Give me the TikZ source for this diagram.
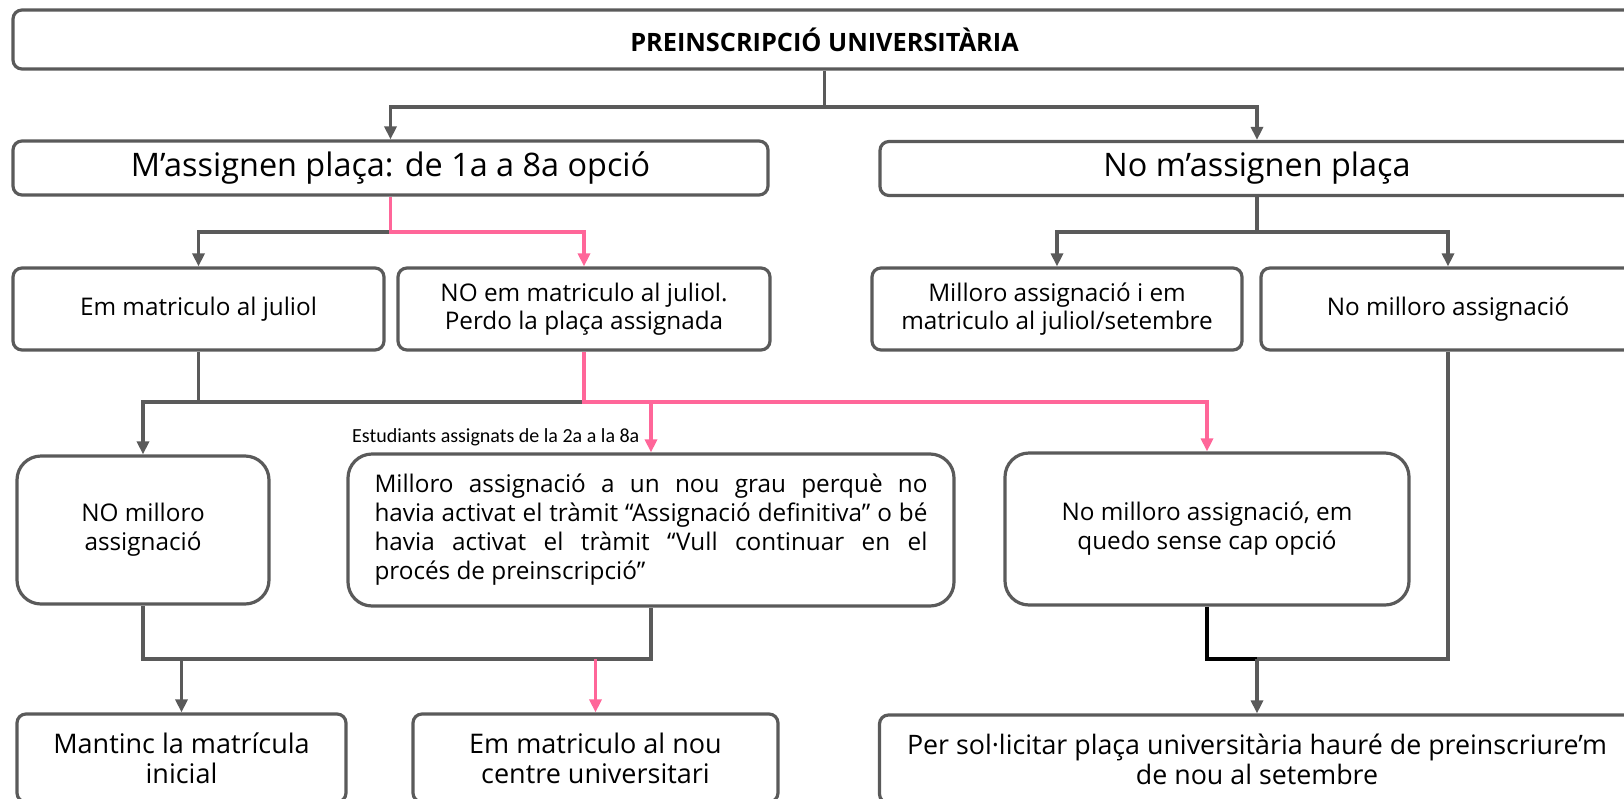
\documentclass[tikz,border=0pt]{standalone}
\usepackage{fontspec}
\setmainfont{Open Sans}
\newfontfamily\calfont{Carlito}
\usetikzlibrary{arrows.meta,calc}
\definecolor{boxgray}{RGB}{90,90,90}
\definecolor{pinkline}{RGB}{255,102,153}
\tikzset{
  box/.style={draw=boxgray, line width=3.2pt, rounded corners=9pt, fill=white, inner sep=0pt, align=center, text=black},
  bigbox/.style={box, rounded corners=24pt},
  conn/.style={draw=boxgray, line width=3.2pt},
  pconn/.style={draw=pinkline, line width=3.2pt},
  kconn/.style={draw=black, line width=3.4pt},
  arr/.style={-{Triangle[length=13pt,width=12pt]}},
  midfont/.style={font=\fontsize{24.3}{27.5}\selectfont},
}
\begin{document}
\begin{tikzpicture}[x=1pt,y=-1pt]
\useasboundingbox (0,0) rectangle (1624,798);
\clip (0,0) rectangle (1624,798);
% nodes
\node[box, minimum width=1623pt, minimum height=59pt, font=\fontsize{25.3}{30}\selectfont\bfseries] (title) at (824.5,39.5) {PREINSCRIPCIÓ UNIVERSITÀRIA};
\node[box, minimum width=755pt, minimum height=54pt, font=\fontsize{32.4}{38}\selectfont] (assig) at (390.5,168) {M’assignen plaça: de 1a a 8a opció};
\node[box, minimum width=754pt, minimum height=54pt, font=\fontsize{32.4}{38}\selectfont] (noassig) at (1257,168.5) {No m’assignen plaça};
\node[box, minimum width=371pt, minimum height=82pt, midfont] (emjul) at (198.5,309) {Em matriculo al juliol};
\node[box, minimum width=372pt, minimum height=82pt, midfont] (nojul) at (584,309) {NO em matriculo al juliol.\\Perdo la plaça assignada};
\node[box, minimum width=370pt, minimum height=82pt, midfont] (millju) at (1057,309) {Milloro assignació i em\\matriculo al juliol/setembre};
\node[box, minimum width=374pt, minimum height=82pt, midfont] (nomill) at (1448,309) {No milloro assignació};
\node[bigbox, minimum width=252pt, minimum height=148pt, font=\fontsize{24.3}{29}\selectfont] (NOmill) at (143,530) {NO milloro\\assignació};
\node[bigbox, minimum width=606pt, minimum height=152pt, text width=553pt, align=justify, font=\fontsize{24.3}{29}\selectfont] (millnou) at (651,530) {\spaceskip=0.26em plus 0.5em minus 0.14em\relax Milloro assignació a un nou grau perquè no\linebreak havia activat el tràmit “Assignació definitiva” o bé\linebreak havia activat el tràmit “Vull continuar en el\linebreak procés de preinscripció”};
\node[bigbox, minimum width=404pt, minimum height=152pt, font=\fontsize{24.3}{29}\selectfont] (nomillem) at (1207,529) {No milloro assignació, em\\quedo sense cap opció};
\node[box, minimum width=329pt, minimum height=88pt, font=\fontsize{27}{30}\selectfont] (mantinc) at (181.5,758) {Mantinc la matrícula\\inicial};
\node[box, minimum width=365pt, minimum height=88pt, font=\fontsize{27}{30}\selectfont] (emnou) at (595.5,758) {Em matriculo al nou\\centre universitari};
\node[box, minimum width=755pt, minimum height=88pt, font=\fontsize{26.8}{30}\selectfont] (per) at (1257,759) {Per sol·licitar plaça universitària hauré de preinscriure’m\\de nou al setembre};
% helper coordinates
\coordinate (y107) at (0,107);
\coordinate (y232) at (0,232);
\coordinate (y402) at (0,402);
\coordinate (y659) at (0,659);
% connectors level 1
\draw[conn,arr] (title.south) -- (title.south |- y107) -| (assig.north);
\draw[conn,arr] (title.south |- y107) -| (noassig.north);
% level 2
\draw[conn,arr] (assig.south |- y232) -| (emjul.north);
\draw[pconn,arr] (assig.south) -- (assig.south |- y232) -| (nojul.north);
\draw[conn] (noassig.south) -- (noassig.south |- y232);
\draw[conn,arr] (noassig.south |- y232) -| (millju.north);
\draw[conn,arr] (noassig.south |- y232) -| (nomill.north);
% level 3
\draw[conn,arr] (emjul.south) -- (emjul.south |- y402) -| (NOmill.north);
\draw[conn] (emjul.south |- y402) -- (nojul.south |- y402);
\draw[pconn,arr] (nojul.south) -- (nojul.south |- y402) -| (nomillem.north);
\draw[pconn,arr] (millnou.north |- y402) -- (millnou.north);
\node[anchor=west, inner sep=0pt, font=\calfont\fontsize{20}{24}\selectfont] (estud) at (352,437) {Estudiants assignats de la 2a a la 8a};
% level 4
\draw[conn] (NOmill.south) -- (NOmill.south |- y659) -- (millnou.south |- y659) -- (millnou.south);
\draw[conn,arr] (mantinc.north |- y659) -- (mantinc.north);
\draw[pconn,arr] (emnou.north |- y659) -- (emnou.north);
\draw[conn] (nomill.south) -- (nomill.south |- y659) -- (per.north |- y659);
\draw[kconn] (nomillem.south) -- (nomillem.south |- y659) -- (per.north |- y659);
\draw[conn,arr] (per.north |- y659) -- (per.north);
\end{tikzpicture}
\end{document}
